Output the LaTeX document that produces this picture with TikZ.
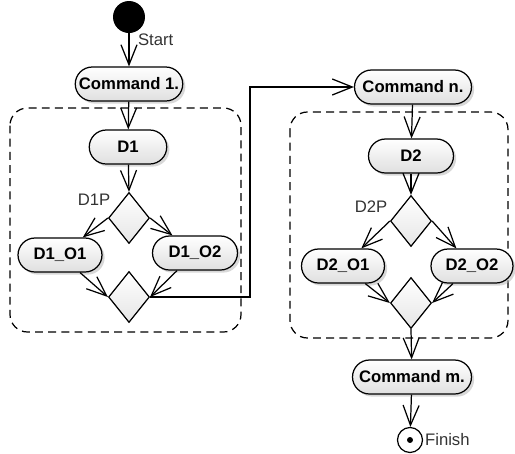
\documentclass[tikz,border=0pt]{standalone}
\usepackage{fontspec}
\setmainfont{Liberation Sans}
\usetikzlibrary{positioning, arrows.meta, shapes.geometric, shadows}
\tikzset{
    action/.style={rectangle, rounded corners=0.34cm, draw=black, line width=0.7pt, top color=white, bottom color=gray!25, drop shadow={shadow xshift=1.5pt, shadow yshift=-1.5pt, fill=gray!60, opacity=0.5}, minimum height=0.68cm, inner xsep=2pt, align=center, font=\fontsize{9.5}{11}\selectfont\bfseries},
    choice/.style={diamond, draw=black, line width=0.7pt, top color=white, bottom color=gray!20, minimum width=0.82cm, minimum height=1.02cm, inner sep=0pt},
    initial/.style={circle, fill=black, minimum size=0.64cm, inner sep=0pt},
    final/.style={circle, draw=black, line width=0.7pt, fill=white, minimum size=0.5cm, inner sep=0pt},
    group/.style={draw=black, line width=0.7pt, dash pattern=on 4.5pt off 3pt, rounded corners=0.35cm},
    flow/.style={-{Straight Barb[length=4mm, width=3.2mm]}, line width=0.7pt},
    note/.style={font=\fontsize{9.5}{11}\selectfont, text=black!80, inner sep=1pt}
}
\begin{document}
\begin{tikzpicture}[x=0.02cm, y=-0.02cm]
    \useasboundingbox (0,0) rectangle (515,454);

    % Groups
    \draw[group] (10,108) rectangle (241,332);
    \draw[group] (290,112) rectangle (508,338);

    % First block
    \node[initial] (Start) at (129,17) {};
    \node[note, anchor=west] (StartLabel) at (136,40) {Start};
    \node[action, minimum width=2.15cm] (Cmd1) at (129,84) {Command 1.};
    \node[action, minimum width=1.55cm] (D1) at (128,147) {D1};
    \node[choice] (D1P) at (129,218) {};
    \node[note] (D1PLabel) at (94,200) {D1P};
    \node[action, minimum width=1.68cm] (D1O1) at (60,255) {D1\_O1};
    \node[action, minimum width=1.7cm] (D1O2) at (195,253) {D1\_O2};
    \node[choice] (D1M) at (129,297) {};

    % Second block
    \node[action, minimum width=2.34cm] (Cmdn) at (413,87) {Command n.};
    \node[action, minimum width=1.7cm] (D2) at (411,156) {D2};
    \node[choice] (D2P) at (411,221) {};
    \node[note] (D2PLabel) at (371,207) {D2P};
    \node[action, minimum width=1.66cm] (D2O1) at (343,266) {D2\_O1};
    \node[action, minimum width=1.64cm] (D2O2) at (472,266) {D2\_O2};
    \node[choice] (D2M) at (411,303) {};
    \node[action, minimum width=2.38cm] (Cmdm) at (412,377) {Command m.};
    \node[final] (Finish) at (410,440) {};
    \fill (Finish.center) circle (1.7pt);
    \node[note, anchor=west] (FinishLabel) at (423,440) {Finish};

    \coordinate (Turn) at (250,190);

    % Flows
    \draw[flow] (Start) -- (Cmd1);
    \draw[flow] (Cmd1) -- (D1);
    \draw[flow] (D1) -- (D1P.north);
    \draw[flow] (D1P.west) -- (D1O1);
    \draw[flow] (D1P.east) -- (D1O2);
    \draw[flow] (D1O1) -- (D1M.west);
    \draw[flow] (D1O2) -- (D1M.east);
    \draw[flow] (D1M.east) -| (Turn) |- (Cmdn.west);
    \draw[flow] (Cmdn) -- (D2);
    \draw[flow] (D2) -- (D2P.north);
    \draw[flow] (D2P.west) -- (D2O1);
    \draw[flow] (D2P.east) -- (D2O2);
    \draw[flow] (D2O1) -- (D2M.west);
    \draw[flow] (D2O2) -- (D2M.east);
    \draw[flow] (D2M.south) -- (Cmdm);
    \draw[flow] (Cmdm) -- (Finish);
\end{tikzpicture}
\end{document}
